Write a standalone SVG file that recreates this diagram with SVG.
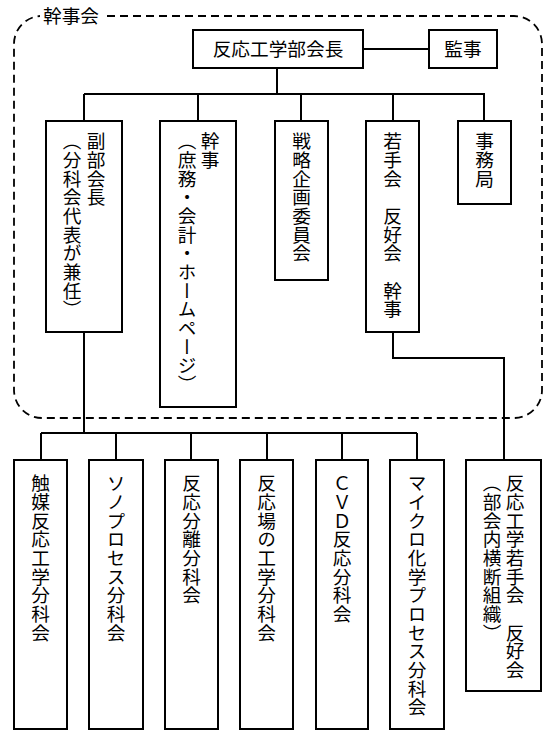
<svg xmlns="http://www.w3.org/2000/svg" width="557" height="742" viewBox="0 0 557 742">
<style>
.box{fill:#fff;stroke:#000;stroke-width:2}
.ln{fill:none;stroke:#000;stroke-width:2}
.dash{fill:none;stroke:#000;stroke-width:1.8;stroke-dasharray:8 5}
text{font-family:"Noto Sans CJK JP","Noto Sans CJK SC",sans-serif;font-size:18.67px;fill:#000}
.h{text-anchor:middle}
.v{writing-mode:vertical-rl}
</style>
<rect width="557" height="742" fill="#fff"/>
<g id="kanjikai">
<path class="dash" d="M107,16 H514 A28,28 0 0 1 542,44 V390 A28,28 0 0 1 514,418 H42 A28,28 0 0 1 14,390 V44 A28,28 0 0 1 40,16"/>
<text x="43" y="23">幹事会</text>
</g>
<g id="connectors">
<path class="ln" d="M363,49 H429"/>
<path class="ln" d="M277,68 V94"/>
<path class="ln" d="M84,94 H485"/>
<path class="ln" d="M84,94 V121 M198,94 V121 M301,94 V121 M393,94 V121 M484,94 V121"/>
<path class="ln" d="M84,332 V433"/>
<path class="ln" d="M41,433 H417"/>
<path class="ln" d="M41,433 V460 M116,433 V460 M191,433 V460 M267,433 V460 M342,433 V460 M417,433 V460"/>
<path class="ln" d="M393,332 V358 H504 V460"/>
</g>
<g id="n-bukaicho">
<rect class="box" x="193" y="30" width="170" height="38"/>
<text class="h" x="278" y="56">反応工学部会長</text>
</g>
<g id="n-kanji-audit">
<rect class="box" x="429" y="30" width="68" height="38"/>
<text class="h" x="463" y="56">監事</text>
</g>
<g id="n-fukubukaicho">
<rect class="box" x="46" y="121" width="76" height="211"/>
<text class="v" x="96" y="132">副部会長</text>
<text class="v" x="72" y="132">（分科会代表が兼任）</text>
</g>
<g id="n-kanji">
<rect class="box" x="160" y="121" width="76" height="286"/>
<text class="v" x="210" y="132">幹事</text>
<text class="v" x="187" y="132">（庶務・会計・ホームページ）</text>
</g>
<g id="n-senryaku">
<rect class="box" x="275" y="121" width="53" height="159"/>
<text class="v" x="301.5" y="132">戦略企画委員会</text>
</g>
<g id="n-wakate-kanji">
<rect class="box" x="366" y="121" width="53" height="211"/>
<text class="v" x="392.5" y="132">若手会　反好会　幹事</text>
</g>
<g id="n-jimukyoku">
<rect class="box" x="458" y="121" width="53" height="83"/>
<text class="v" x="484.5" y="132">事務局</text>
</g>
<g id="n-shokubai">
<rect class="box" x="14" y="460" width="53" height="269"/>
<text class="v" x="40.5" y="474">触媒反応工学分科会</text>
</g>
<g id="n-sono">
<rect class="box" x="89" y="460" width="54" height="269"/>
<text class="v" x="116" y="474">ソノプロセス分科会</text>
</g>
<g id="n-bunri">
<rect class="box" x="165" y="460" width="53" height="269"/>
<text class="v" x="191.5" y="474">反応分離分科会</text>
</g>
<g id="n-hannouba">
<rect class="box" x="240" y="460" width="53" height="269"/>
<text class="v" x="266.5" y="474">反応場の工学分科会</text>
</g>
<g id="n-cvd">
<rect class="box" x="316" y="460" width="52" height="269"/>
<text class="v" x="342" y="474">ＣＶＤ反応分科会</text>
</g>
<g id="n-micro">
<rect class="box" x="390" y="460" width="54" height="269"/>
<text class="v" x="417" y="474">マイクロ化学プロセス分科会</text>
</g>
<g id="n-wakatekai">
<rect class="box" x="466" y="460" width="75" height="231"/>
<text class="v" x="515" y="474">反応工学若手会　反好会</text>
<text class="v" x="492" y="474">（部会内横断組織）</text>
</g>
</svg>
